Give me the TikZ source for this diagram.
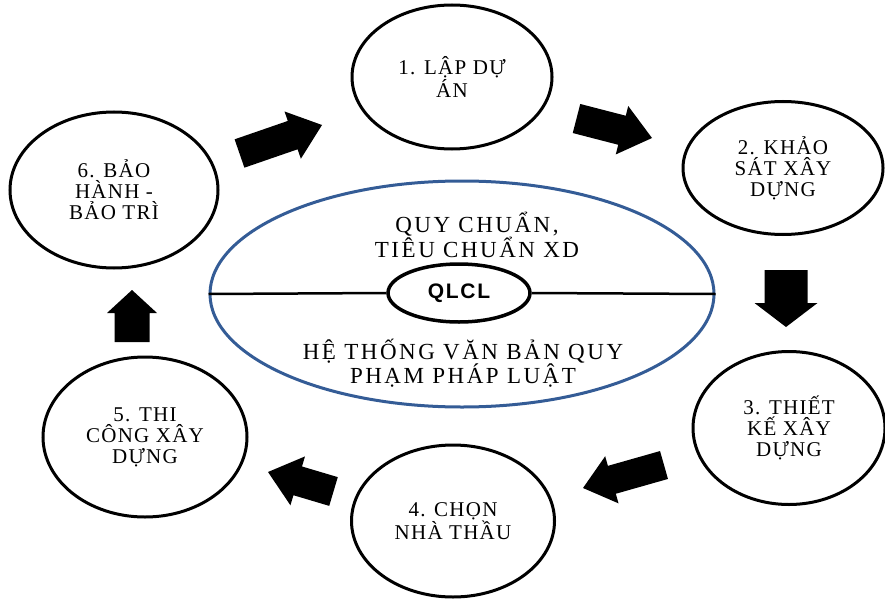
\documentclass[tikz,border=0pt]{standalone}
\usepackage{fontspec}
\setmainfont{Liberation Serif}
\newfontfamily\stagefont[LetterSpace=6]{Liberation Serif}
\newfontfamily\lawfont[LetterSpace=11]{Liberation Serif}
\newfontfamily\qlclfont[LetterSpace=8]{Liberation Sans}
\usetikzlibrary{shapes.geometric,calc}

\definecolor{ringblue}{RGB}{52,92,150}

\tikzset{
  stage/.style={ellipse, draw, line width=3pt, inner sep=0pt, align=center,
    font=\stagefont\fontsize{21}{21}\selectfont},
  law/.style={align=center, font=\lawfont\fontsize{23}{23}\selectfont},
}

% block arrow: tail, tip, half shaft, half head, head length
\newcommand{\fatarrow}[5]{%
  \path ($(#2)!#5pt!(#1)$) coordinate (neck);
  \fill ($(#1)!#3pt!90:(#2)$) -- ($(neck)!#3pt!90:(#2)$) -- ($(neck)!#4pt!90:(#2)$)
    -- (#2) -- ($(neck)!#4pt!-90:(#2)$) -- ($(neck)!#3pt!-90:(#2)$)
    -- ($(#1)!#3pt!-90:(#2)$) -- cycle;}

\begin{document}
\begin{tikzpicture}[x=1pt, y=-1pt]
  \useasboundingbox (0,0) rectangle (885,599);

  % Define nodes
  \node[ellipse, draw=ringblue, line width=3pt, minimum width=504pt, minimum height=226pt] (main) at (462,294) {};
  \node[ellipse, draw, line width=3.5pt, minimum width=142pt, minimum height=58pt, inner sep=0pt,
    font=\qlclfont\bfseries\fontsize{21}{22}\selectfont] (qlcl) at (459,293) {QLCL};
  \node[law] (top) at (477,235) {QUY CHUẨN,\\TIÊU CHUẨN XD};
  \node[law] (bottom) at (463,363) {HỆ THỐNG VĂN BẢN QUY\\PHẠM PHÁP LUẬT};

  \node[stage, minimum width=200pt, minimum height=144pt] (s1) at (452,77) {1. LẬP DỰ\\ÁN};
  \node[stage, minimum width=200pt, minimum height=133pt] (s2) at (783,168) {2. KHẢO\\SÁT XÂY\\DỰNG};
  \node[stage, minimum width=192pt, minimum height=153pt] (s3) at (789,428) {3. THIẾT\\KẾ XÂY\\DỰNG};
  \node[stage, minimum width=203pt, minimum height=152pt] (s4) at (453,521) {4. CHỌN\\NHÀ THẦU};
  \node[stage, minimum width=204pt, minimum height=160pt] (s5) at (145,437) {5. THI\\CÔNG XÂY\\DỰNG};
  \node[stage, minimum width=208pt, minimum height=156pt] (s6) at (114,190) {6. BẢO\\HÀNH -\\BẢO TRÌ};

  % Arrow ends
  \coordinate (a1t) at (239.5,153.5); \coordinate (a1h) at (322,125);
  \coordinate (a2t) at (576.5,118.5); \coordinate (a2h) at (652,138);
  \coordinate (a3t) at (786,270);     \coordinate (a3h) at (786,327);
  \coordinate (a4t) at (664,465);     \coordinate (a4h) at (583,488);
  \coordinate (a5t) at (333.5,491.5); \coordinate (a5h) at (268,472);
  \coordinate (a6t) at (132,342);     \coordinate (a6h) at (132,290);

  % Connect the nodes
  \draw[line width=2.5pt] (main.west) -- (qlcl.west);
  \draw[line width=2.5pt] (qlcl.east) -- (main.east);
  \fatarrow{a1t}{a1h}{15}{25}{31}
  \fatarrow{a2t}{a2h}{15}{25}{31}
  \fatarrow{a3t}{a3h}{21.5}{31.5}{24}
  \fatarrow{a4t}{a4h}{14.5}{24.5}{30}
  \fatarrow{a5t}{a5h}{15}{25.5}{31}
  \fatarrow{a6t}{a6h}{17.5}{25}{23}

\end{tikzpicture}
\end{document}
